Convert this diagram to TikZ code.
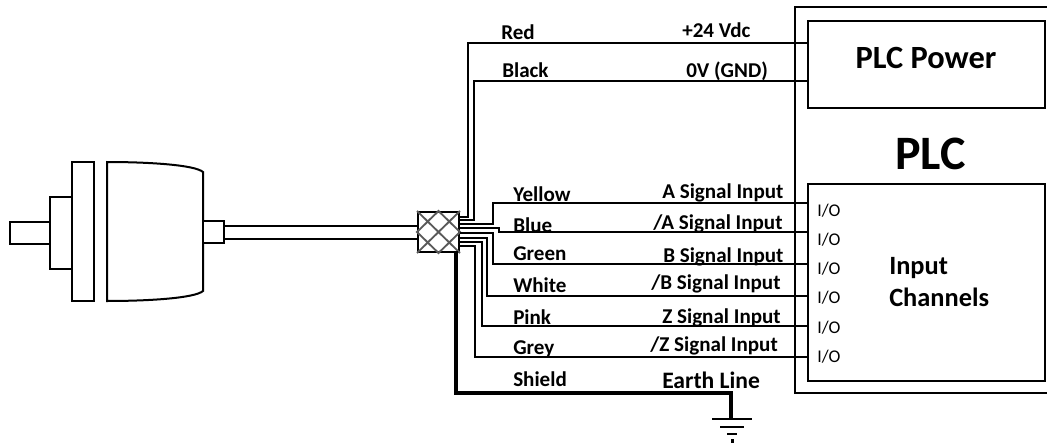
\documentclass[tikz,border=0pt]{standalone}
\usepackage{fontspec}
\setmainfont{Carlito}
\usetikzlibrary{calc,positioning}
\tikzset{
	wire/.style={line width=1.5pt},
	part/.style={line width=1.5pt,fill=white},
	lbl/.style={font=\fontsize{15.8}{18}\selectfont\bfseries,anchor=base west,inner sep=0pt},
	iolbl/.style={font=\fontsize{13.4}{15}\selectfont,anchor=base west,inner sep=0pt},
	plcbox/.style={draw,line width=1.5pt,anchor=north west,inner sep=0pt}
}
\begin{document}
\begin{tikzpicture}[x=0.75pt,y=-0.75pt]
	\useasboundingbox (0,0) rectangle (1047,446);
	% encoder
	\draw[part] (10,222) rectangle (50,244);
	\draw[part] (50,197) rectangle (72,269);
	\draw[part] (72,162) rectangle (94,301);
	\draw[part] (107,162) .. controls (150,162) and (195,165) .. (203,172) -- (203,291) .. controls (195,298) and (150,301) .. (107,301) -- cycle;
	\draw[part] (203,221) rectangle (224,243);
	% junction
	\node[draw,line width=1.5pt,minimum width=30.75pt,minimum height=30pt,inner sep=0pt,anchor=north west] (J) at (417,211) {};
	\draw[line width=1.4pt,black!65] (J.north west) -- (J.south east);
	\draw[line width=1.4pt,black!65] (J.south west) -- (J.north east);
	\draw[line width=1.4pt,black!65] (J.west) -- (J.north) -- (J.east) -- (J.south) -- cycle;
	\coordinate (C1) at (224,226);
	\coordinate (C2) at (224,239);
	\draw[wire] (C1) -- (C1-|J.west);
	\draw[wire] (C2) -- (C2-|J.west);
	% PLC
	\draw[line width=1.5pt] (1047,7) -- (795,7) -- (795,393) -- (1047,393);
	\node[plcbox,minimum width=177.75pt,minimum height=65.25pt] (P) at (807,20) {};
	\node[plcbox,minimum width=177.75pt,minimum height=147.75pt] (I) at (807,183) {};
	\node[font=\fontsize{36}{40}\selectfont\bfseries,anchor=base west,inner sep=0pt] (T) at (895,169) {PLC};
	\node[font=\fontsize{24.3}{28}\selectfont\bfseries,anchor=base] (PP) at (926,68) {PLC Power};
	% wires
	\draw[wire] (J.east|-0,217) -- (468,217) -- (468,43) -- (807,43);
	\draw[wire] (J.east|-0,220) -- (474,220) -- (474,81) -- (807,81);
	\draw[wire] (J.east|-0,224) -- (493,224) -- (493,203) -- (807,203);
	\draw[wire] (J.east|-0,228) -- (499,228) -- (499,232) -- (807,232);
	\draw[wire] (J.east|-0,233) -- (493,233) -- (493,264) -- (807,264);
	\draw[wire] (J.east|-0,238) -- (487,238) -- (487,296) -- (807,296);
	\draw[wire] (J.east|-0,242) -- (482,242) -- (482,326) -- (807,326);
	\draw[wire] (J.east|-0,246) -- (475,246) -- (475,357) -- (807,357);
	% earth
	\coordinate (E) at (731,419);
	\draw[line width=3.5pt] (456,251) -- (456,393) -- (731,393) -- (E);
	\draw[line width=2pt] ($(E)+(-19,0)$) -- ($(E)+(21,0)$);
	\draw[line width=2pt] ($(E)+(-11,8)$) -- ($(E)+(13,8)$);
	\draw[line width=2pt] ($(E)+(-4,15)$) -- ($(E)+(6,15)$);
	\draw[line width=2.5pt] ($(E)+(0,22)$) -- ($(E)+(3,22)$);
	% labels
	\node[lbl] (Lr) at (501,39) {Red};
	\node[lbl] (Lk) at (502,77) {Black};
	\node[lbl] (Ly) at (513,201) {Yellow};
	\node[lbl] (Lb) at (513,232) {Blue};
	\node[lbl] (Lg) at (513,260) {Green};
	\node[lbl] (Lw) at (513,292) {White};
	\node[lbl] (Lp) at (513,324) {Pink};
	\node[lbl] (Lq) at (513,354) {Grey};
	\node[lbl] (Ls) at (513,386) {Shield};
	\node[lbl] (Vp) at (682,37) {+24 Vdc};
	\node[lbl] (Vn) at (686,77) {0V (GND)};
	\node[lbl] (Sa) at (662,198) {A Signal Input};
	\node[lbl] (Sna) at (653,229) {/A Signal Input};
	\node[lbl] (Sb) at (663,262) {B Signal Input};
	\node[lbl] (Snb) at (651,289) {/B Signal Input};
	\node[lbl] (Sz) at (662,323) {Z Signal Input};
	\node[lbl] (Snz) at (650,351) {/Z Signal Input};
	\node[lbl,font=\fontsize{17.7}{20}\selectfont\bfseries] (Se) at (662,388) {Earth Line};
	\node[iolbl] (Q1) at (817,216) {I/O};
	\node[iolbl] (Q2) at (817,245) {I/O};
	\node[iolbl] (Q3) at (817,274) {I/O};
	\node[iolbl] (Q4) at (817,303) {I/O};
	\node[iolbl] (Q5) at (817,333) {I/O};
	\node[iolbl] (Q6) at (817,362) {I/O};
	\node[lbl,font=\fontsize{19.8}{22}\selectfont\bfseries] (In) at (889,274) {Input};
	\node[lbl,font=\fontsize{19.8}{22}\selectfont\bfseries] (Ch) at (889,306) {Channels};
\end{tikzpicture}
\end{document}
